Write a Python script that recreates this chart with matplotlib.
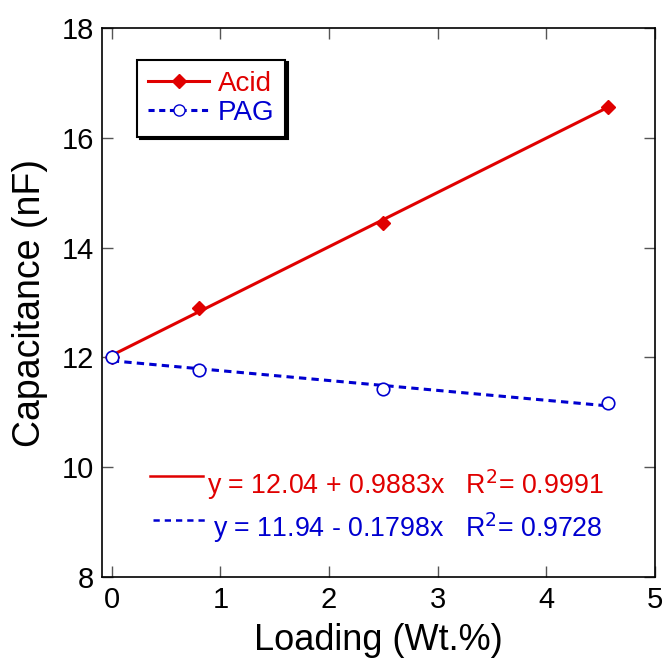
import numpy as np
import matplotlib
matplotlib.use("Agg")
import matplotlib.pyplot as plt
from matplotlib.lines import Line2D

plt.rcParams["font.family"] = ["Liberation Sans", "DejaVu Sans"]

# data
loading = [0.0, 0.8, 2.5, 4.57]
acid = [12.0, 12.9, 14.45, 16.56]
pag = [12.0, 11.77, 11.43, 11.17]

acid_fit = (12.04, 0.9883)
pag_fit = (11.94, -0.1798)
acid_eq = "y = 12.04 + 0.9883x   R$^{2}$= 0.9991"
pag_eq = "y = 11.94 - 0.1798x   R$^{2}$= 0.9728"

red = "#e00000"
blue = "#0000d0"

fig = plt.figure(figsize=(6.67, 6.62), dpi=100)
ax = fig.add_axes([0.153, 0.128, 0.829, 0.830])

xs = np.array([loading[0], loading[-1]])
ax.plot(xs, acid_fit[0] + acid_fit[1] * xs, color=red, lw=2.2)
ax.plot(xs, pag_fit[0] + pag_fit[1] * xs, color=blue, lw=2.2, ls=(0, (2.4, 1.7)))
ax.plot(loading, acid, ls="none", marker="D", ms=7, color=red)
ax.plot(loading, pag, ls="none", marker="o", ms=9, mfc="white", mec=blue, mew=1.2)

ax.set_xlim(-0.09, 5)
ax.set_ylim(8, 18)
ax.set_xticks(range(0, 6))
ax.set_yticks(range(8, 19, 2))
ax.tick_params(direction="in", top=True, right=True, length=8, width=1,
               labelsize=21, pad=6, color="#555555")
for s in ax.spines.values():
    s.set_linewidth(1.2)

ax.set_xlabel("Loading (Wt.%)", fontsize=26)
ax.xaxis.label.set_va("baseline")
ax.xaxis.set_label_coords(0.5, -0.132, transform=ax.transAxes)
ax.set_ylabel("Capacitance (nF)", fontsize=27)
ax.yaxis.set_label_coords(-0.098, 0.5, transform=ax.transAxes)

handles = [
    Line2D([], [], color=red, lw=2.2, marker="D", ms=7),
    Line2D([], [], color=blue, lw=2.2, ls=(0, (2, 1.5)), marker="o", ms=8,
           mfc="white", mec=blue),
]
leg = ax.legend(handles, ["Acid", "PAG"], loc="upper left",
                bbox_to_anchor=(0.063, 0.942), borderaxespad=0, fontsize=20,
                handlelength=2.2, handletextpad=0.3, labelspacing=0.1,
                borderpad=0.4, fancybox=False, edgecolor="black",
                framealpha=1, shadow={"color": "black", "alpha": 1})
leg.get_frame().set_linewidth(1.5)
for t, c in zip(leg.get_texts(), [red, blue]):
    t.set_color(c)

ax.plot([0.087, 0.183], [0.184, 0.184], color=red, lw=1.8, transform=ax.transAxes)
ax.text(0.19, 0.168, acid_eq, color=red, fontsize=19.3, va="center", transform=ax.transAxes)
ax.plot([0.092, 0.188], [0.104, 0.104], color=blue, lw=1.8, ls=(0, (2.5, 2)),
        transform=ax.transAxes)
ax.text(0.2, 0.091, pag_eq, color=blue, fontsize=19.3, va="center", transform=ax.transAxes)

fig.savefig("out.png", dpi=100)
